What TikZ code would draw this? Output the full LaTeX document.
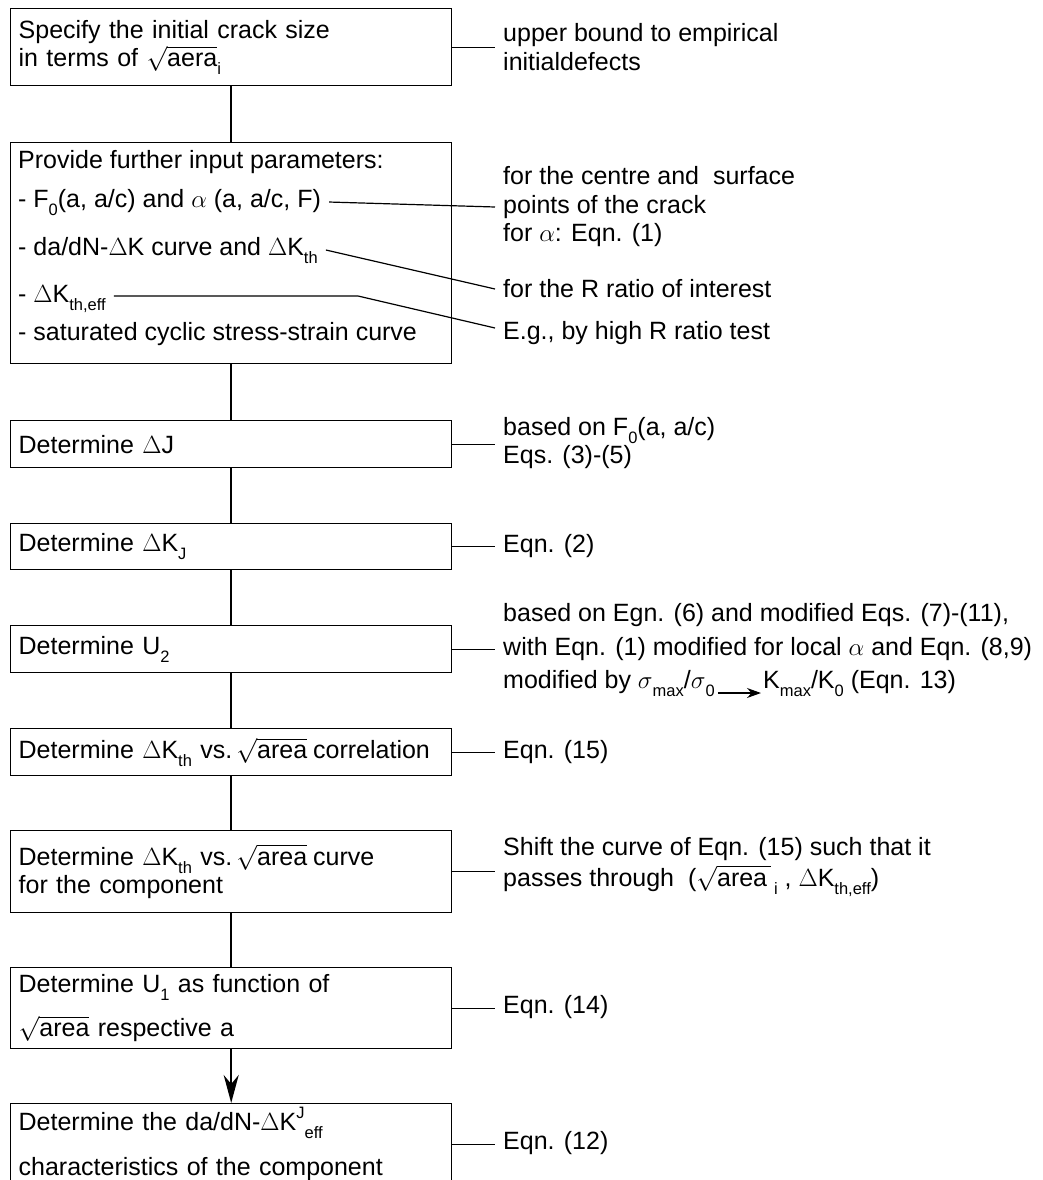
\documentclass[tikz,border=0pt]{standalone}
\usepackage{fontspec}
\setmainfont{Liberation Sans}
\usetikzlibrary{arrows.meta,calc}
\newcommand\lo[1]{\raisebox{-0.32em}{\fontsize{16.5}{16.5}\selectfont #1}}
\newcommand\hi[1]{\raisebox{0.45em}{\fontsize{16.5}{16.5}\selectfont #1}}
\newcommand\txtsz{\fontsize{25}{28.5}\selectfont\lineskiplimit=-50pt\hyphenpenalty=10000\relax}
\newcommand\rt[1]{$\sqrt{\mbox{#1}}$}
\begin{document}
\begin{tikzpicture}[x=1pt,y=-1pt,
  box/.style={draw, line width=1.4pt, anchor=north west, minimum width=441pt,
    text width=425pt, inner xsep=8pt, inner ysep=0pt, align=left, font=\txtsz},
  txt/.style={inner xsep=8pt, inner ysep=0pt, font=\txtsz, align=left},
  flow/.style={line width=2.4pt},
  link/.style={line width=1.2pt}]
\fill[white] (0,0) rectangle (1042,1180);
\useasboundingbox (0,0) rectangle (1042,1180);

% boxes
\node[box, minimum height=77pt] (b1) at (10,8) {Specify the initial crack size\\in terms of \rt{aera}\lo{i}};
\node[box, minimum height=221pt] (b2) at (10,142) {};
\node[box, minimum height=47pt] (b3) at (10,420) {Determine $\Delta$J};
\node[box, minimum height=46pt] (b4) at (10,523) {Determine $\Delta$K\lo{J}};
\node[box, minimum height=47pt] (b5) at (10,625) {Determine U\lo{2}};
\node[box, minimum height=47pt] (b6) at (10,728) {\mbox{Determine $\Delta$K\lo{th} vs.\,\rt{area}\hspace{6pt}correlation}};
\node[box, minimum height=82pt] (b7) at (10,830) {Determine $\Delta$K\lo{th} vs.\,\rt{area}\hspace{6pt}curve\\for the component};
\node[box, minimum height=81pt] (b8) at (10,967) {Determine U\lo{1} as function of\\[15pt]\rt{area} respective a};
\node[box, minimum height=81pt] (b9) at (10,1103) {Determine the da/dN-$\Delta$K\hi{J}\lo{eff}\\[17pt]characteristics of the component};

% items of box 2
\node[txt, anchor=base west] (p0) at (10,168) {Provide further input parameters:};
\node[txt, anchor=base west] (p1) at (10,207) {- F\lo{0}(a, a/c) and $\alpha$ (a, a/c, F)};
\node[txt, anchor=base west] (p2) at (10,255) {- da/dN-$\Delta$K curve and $\Delta$K\lo{th}};
\node[txt, anchor=base west] (p3) at (10,302) {- $\Delta$K\lo{th,eff}};
\node[txt, anchor=base west] (p4) at (10,340) {- saturated cyclic stress-strain curve};

% right-hand notes
\node[txt, anchor=west] (r1) at (495,47) {upper bound to empirical\\initialdefects};
\node[txt, anchor=west] (r2) at (495,207) {for the centre and \ surface\\points of the crack\\for $\alpha$: Eqn. (1)};
\node[txt, anchor=west] (r3) at (495,289) {for the R ratio of interest};
\node[txt, anchor=west] (r4) at (495,333) {E.g., by high R ratio test};
\node[txt, anchor=west] (r5) at (495,443) {based on F\lo{0}(a, a/c)\\Eqs. (3)-(5)};
\node[txt, anchor=west] (r6) at (495,546) {Eqn. (2)};
\node[txt, anchor=base west] (r7a) at (495,621) {based on Egn. (6) and modified Eqs. (7)-(11),};
\node[txt, anchor=base west] (r7b) at (495,655) {with Eqn. (1) modified for local $\alpha$ and Eqn. (8,9)};
\node[txt, anchor=base west] (r7c) at (495,688) {modified by $\sigma$\lo{max}/$\sigma$\lo{0}};
\node[txt, anchor=base west] (r7d) at ([xshift=32pt]r7c.base east) {K\lo{max}/K\lo{0} (Eqn. 13)};
\node[txt, anchor=west] (r8) at (495,752) {Eqn. (15)};
\node[txt, anchor=west] (r9) at (495,867) {Shift the curve of Eqn. (15) such that it\\[2pt]passes through \ (\rt{area\,}\lo{\,i} , $\Delta$K\lo{th,eff})};
\node[txt, anchor=west] (r10) at (495,1007) {Eqn. (14)};
\node[txt, anchor=west] (r11) at (495,1143) {Eqn. (12)};

% main flow
\draw[flow] (b1.south) -- (b2.north);
\draw[flow] (b2.south) -- (b3.north);
\draw[flow] (b3.south) -- (b4.north);
\draw[flow] (b4.south) -- (b5.north);
\draw[flow] (b5.south) -- (b6.north);
\draw[flow] (b6.south) -- (b7.north);
\draw[flow] (b7.south) -- (b8.north);
\draw[flow, -{Stealth[length=28pt,width=15pt,inset=9pt]}] (b8.south) -- (b9.north);

% note links
\draw[link] (b1.east) -- (b1.east -| r1.west);
\draw[link] (p1.east) -- (r2.west);
\draw[link] (p2.east) -- (r3.west);
\coordinate (k3) at (358,296);
\draw[link] (p3.east |- k3) -- (k3) -- ([yshift=5pt]r4.west);
\draw[link] (b3.east) -- (b3.east -| r5.west);
\draw[link] (b4.east) -- (b4.east -| r6.west);
\draw[link] (b5.east) -- (b5.east -| r7b.west);
\draw[link, -{Stealth[length=14pt,width=10pt]}] ([xshift=-5pt,yshift=-5pt]r7c.base east) -- ([xshift=6pt,yshift=-5pt]r7d.base west);
\draw[link] (b6.east) -- (b6.east -| r8.west);
\draw[link] (b7.east) -- (b7.east -| r9.west);
\draw[link] (b8.east) -- (b8.east -| r10.west);
\draw[link] (b9.east) -- (b9.east -| r11.west);
\end{tikzpicture}
\end{document}
